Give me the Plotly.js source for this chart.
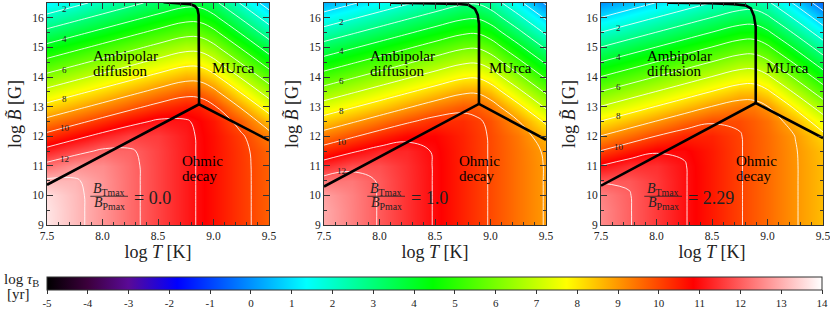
<!DOCTYPE html>
<html>
<head>
<meta charset="utf-8">
<script src="https://cdn.plot.ly/plotly-3.0.1.min.js"></script>
<style>html,body{margin:0;padding:0;background:#fff;}#chart{width:830px;height:317px;}</style>
</head>
<body>
<div id="chart"></div>
<script>
// log T grid (K) and log B grid (G)
const logT = [7.5, 7.75, 8.0, 8.25, 8.5, 8.75, 8.88, 9.0, 9.25, 9.5];
const logB = [9, 9.5, 10, 10.5, 11, 11.5, 12, 12.5, 13, 13.5, 14, 14.5, 15, 15.5, 16, 16.5];

// log tau_B (yr), rows follow logB, columns follow logT
const tauRatio0 = [
 [13.68, 13.18, 12.68, 12.18, 11.68, 11.18, 10.92, 10.68, 10.18, 9.68],
 [13.67, 13.18, 12.68, 12.18, 11.68, 11.18, 10.92, 10.68, 10.18, 9.68],
 [13.58, 13.17, 12.68, 12.18, 11.68, 11.18, 10.92, 10.68, 10.18, 9.68],
 [13.12, 13.08, 12.67, 12.18, 11.68, 11.18, 10.92, 10.68, 10.18, 9.68],
 [12.24, 12.62, 12.58, 12.17, 11.68, 11.18, 10.92, 10.68, 10.18, 9.67],
 [11.26, 11.74, 12.12, 12.08, 11.67, 11.18, 10.92, 10.68, 10.17, 9.62],
 [10.26, 10.76, 11.24, 11.62, 11.58, 11.17, 10.91, 10.67, 10.10, 9.31],
 [9.26, 9.76, 10.26, 10.74, 11.12, 11.07, 10.85, 10.58, 9.72, 8.51],
 [8.26, 8.76, 9.26, 9.76, 10.24, 10.58, 10.48, 10.11, 8.89, 7.54],
 [7.26, 7.76, 8.26, 8.76, 9.26, 9.70, 9.66, 9.23, 7.91, 6.54],
 [6.26, 6.76, 7.26, 7.76, 8.26, 8.71, 8.68, 8.25, 6.91, 5.54],
 [5.26, 5.76, 6.26, 6.76, 7.26, 7.71, 7.68, 7.25, 5.91, 4.54],
 [4.26, 4.76, 5.26, 5.76, 6.26, 6.71, 6.68, 6.25, 4.91, 3.54],
 [3.26, 3.76, 4.26, 4.76, 5.26, 5.71, 5.68, 5.25, 3.91, 2.54],
 [2.26, 2.76, 3.26, 3.76, 4.26, 4.71, 4.68, 4.25, 2.91, 1.54],
 [1.26, 1.76, 2.26, 2.76, 3.26, 3.71, 3.68, 3.25, 1.91, 0.54]
];
const tauRatio1 = [
 [12.95, 12.45, 11.95, 11.45, 10.95, 10.45, 10.19, 9.95, 9.45, 8.95],
 [12.94, 12.45, 11.95, 11.45, 10.95, 10.45, 10.19, 9.95, 9.45, 8.95],
 [12.82, 12.44, 11.95, 11.45, 10.95, 10.45, 10.19, 9.95, 9.45, 8.95],
 [12.29, 12.32, 11.94, 11.45, 10.95, 10.45, 10.19, 9.95, 9.45, 8.95],
 [11.39, 11.79, 11.82, 11.43, 10.95, 10.45, 10.19, 9.95, 9.45, 8.95],
 [10.40, 10.89, 11.29, 11.32, 10.93, 10.45, 10.19, 9.95, 9.44, 8.90],
 [9.40, 9.90, 10.39, 10.79, 10.82, 10.43, 10.18, 9.94, 9.39, 8.61],
 [8.40, 8.90, 9.40, 9.89, 10.29, 10.31, 10.11, 9.85, 9.03, 7.84],
 [7.40, 7.90, 8.40, 8.90, 9.39, 9.77, 9.73, 9.40, 8.21, 6.86],
 [6.40, 6.90, 7.40, 7.90, 8.40, 8.86, 8.90, 8.53, 7.24, 5.87],
 [5.40, 5.90, 6.40, 6.90, 7.40, 7.87, 7.92, 7.55, 6.24, 4.87],
 [4.40, 4.90, 5.40, 5.90, 6.40, 6.87, 6.92, 6.55, 5.24, 3.87],
 [3.40, 3.90, 4.40, 4.90, 5.40, 5.87, 5.92, 5.55, 4.24, 2.87],
 [2.40, 2.90, 3.40, 3.90, 4.40, 4.87, 4.92, 4.55, 3.24, 1.87],
 [1.40, 1.90, 2.40, 2.90, 3.40, 3.87, 3.92, 3.55, 2.24, 0.87],
 [0.40, 0.90, 1.40, 1.90, 2.40, 2.87, 2.92, 2.55, 1.24, -0.13]
];
const tauRatio229 = [
 [12.55, 12.05, 11.55, 11.05, 10.55, 10.05, 9.79, 9.55, 9.05, 8.55],
 [12.54, 12.05, 11.55, 11.05, 10.55, 10.05, 9.79, 9.55, 9.05, 8.55],
 [12.43, 12.04, 11.55, 11.05, 10.55, 10.05, 9.79, 9.55, 9.05, 8.55],
 [11.92, 11.93, 11.54, 11.05, 10.55, 10.05, 9.79, 9.55, 9.05, 8.55],
 [11.02, 11.42, 11.43, 11.04, 10.55, 10.05, 9.79, 9.55, 9.05, 8.55],
 [10.03, 10.52, 10.92, 10.93, 10.54, 10.05, 9.79, 9.55, 9.04, 8.50],
 [9.03, 9.53, 10.02, 10.42, 10.43, 10.04, 9.78, 9.54, 8.99, 8.22],
 [8.03, 8.53, 9.03, 9.52, 9.92, 9.92, 9.72, 9.46, 8.64, 7.45],
 [7.03, 7.53, 8.03, 8.53, 9.02, 9.39, 9.35, 9.02, 7.83, 6.49],
 [6.03, 6.53, 7.03, 7.53, 8.03, 8.49, 8.52, 8.15, 6.86, 5.49],
 [5.03, 5.53, 6.03, 6.53, 7.03, 7.50, 7.54, 7.17, 5.86, 4.49],
 [4.03, 4.53, 5.03, 5.53, 6.03, 6.50, 6.54, 6.17, 4.86, 3.49],
 [3.03, 3.53, 4.03, 4.53, 5.03, 5.50, 5.54, 5.17, 3.86, 2.49],
 [2.03, 2.53, 3.03, 3.53, 4.03, 4.50, 4.54, 4.17, 2.86, 1.49],
 [1.03, 1.53, 2.03, 2.53, 3.03, 3.50, 3.54, 3.17, 1.86, 0.49],
 [0.03, 0.53, 1.03, 1.53, 2.03, 2.50, 2.54, 2.17, 0.86, -0.51]
];

// Regime boundaries (log T, log B)
const boundT1 = [7.5, 8.87, 9.5, null, 8.87, 8.87, 8.866, 8.855, 8.83, 8.79, 8.72, 8.64, 8.55];
const boundB1 = [10.36, 13.08, 11.86, null, 13.08, 15.9, 16.1, 16.3, 16.4, 16.46, 16.49, 16.5, 16.53];
const boundT2 = [7.5, 8.896, 9.5, null, 8.896, 8.896, 8.885, 8.86, 8.8, 8.7, 8.5, 8.3, 8.1];
const boundB2 = [10.30, 13.09, 11.88, null, 13.09, 15.8, 16.1, 16.3, 16.44, 16.465, 16.485, 16.5, 16.51];
const boundT3 = [7.5, 8.894, 9.5, null, 8.894, 8.894, 8.878, 8.85, 8.8, 8.7, 8.48, 8.3, 8.1];
const boundB3 = [10.33, 13.12, 11.94, null, 13.12, 15.7, 16.06, 16.32, 16.42, 16.46, 16.49, 16.5, 16.51];

const ratioLabels = ['0.0', '1.0', '2.29'];
const contourLabelValues = [2, 4, 6, 8, 10, 12];
const contourLabelB = [
  [16.29, 15.27, 14.25, 13.26, 12.28, 11.24],
  [15.86, 14.87, 13.86, 12.84, 11.82, 10.84],
  [15.67, 14.68, 13.67, 12.67, 11.65, null]
];
const cbTicks = [-5,-4,-3,-2,-1,0,1,2,3,4,5,6,7,8,9,10,11,12,13,14];

const SERIF = 'Liberation Serif';
const TXT = '#222';

const fields = [tauRatio0, tauRatio1, tauRatio229];
const bounds = [[boundT1, boundB1], [boundT2, boundB2], [boundT3, boundB3]];
const domains = [[47/830, 269/830], [324/830, 546/830], [601/830, 823/830]];
const yDom = [92/317, 314/317];

const data = [];
const layout = {
  width: 830, height: 317,
  margin: {l: 0, r: 0, t: 0, b: 0},
  paper_bgcolor: '#fff', plot_bgcolor: '#fff',
  showlegend: false,
  font: {family: SERIF, color: TXT},
  coloraxis: {
    cmin: -5, cmax: 14,
    colorscale: [
      [0, '#000000'], [0.0526, '#3c003c'], [0.105, '#5a0a96'], [0.168, '#0000ff'],
      [0.335, '#00ffff'], [0.498, '#00ff00'], [0.6705, '#ffff00'], [0.834, '#ff0000'], [1, '#ffffff']
    ],
    colorbar: {
      orientation: 'h', x: 47/830, xanchor: 'left', len: 775/830, lenmode: 'fraction',
      y: 1 - 277/317, yanchor: 'top', thickness: 13, thicknessmode: 'pixels',
      xpad: 0, ypad: 0, outlinewidth: 1, outlinecolor: '#333',
      ticks: 'outside', ticklen: 4, tickcolor: '#333',
      tickmode: 'array', tickvals: cbTicks, ticktext: cbTicks.map(String),
      tickfont: {family: SERIF, size: 11, color: TXT}, ticklabeloverflow: 'allow'
    }
  },
  annotations: [],
  shapes: []
};

for (let p = 0; p < 3; p++) {
  const sfx = p === 0 ? '' : String(p + 1);
  const xa = 'x' + sfx, ya = 'y' + sfx;
  data.push({
    type: 'heatmap', x: logT, y: logB, z: fields[p], coloraxis: 'coloraxis',
    zsmooth: 'best', xaxis: xa, yaxis: ya, hoverinfo: 'skip'
  });
  data.push({
    type: 'contour', x: logT, y: logB, z: fields[p], xaxis: xa, yaxis: ya,
    autocontour: false, contours: {start: -1, end: 14, size: 1, coloring: 'none', showlabels: false},
    line: {color: 'rgba(255,255,255,0.95)', width: 0.9, smoothing: 1.2},
    showscale: false, hoverinfo: 'skip'
  });
  data.push({
    type: 'scatter', mode: 'lines', x: bounds[p][0], y: bounds[p][1], xaxis: xa, yaxis: ya,
    line: {color: '#000', width: 2.6}, hoverinfo: 'skip', connectgaps: false
  });
  const common = {
    showline: true, linecolor: '#333', linewidth: 1, mirror: 'allticks',
    ticks: 'inside', ticklen: 6, tickcolor: '#333', showgrid: false, zeroline: false,
    tickfont: {family: SERIF, size: 11.5, color: TXT}, ticklabeloverflow: 'allow'
  };
  layout['xaxis' + sfx] = Object.assign({}, common, {
    domain: domains[p], range: [7.5, 9.5], anchor: ya, tick0: 7.5, dtick: 0.5, tickformat: '.1f',
    minor: {dtick: 0.1, ticks: 'inside', ticklen: 3, tickcolor: '#333'},
    title: {text: 'log <i>T</i> [K]', font: {family: SERIF, size: 18, color: TXT}, standoff: 1}
  });
  layout['yaxis' + sfx] = Object.assign({}, common, {
    domain: yDom, range: [9, 16.5], anchor: xa, tick0: 9, dtick: 1,
    minor: {dtick: 0.5, ticks: 'inside', ticklen: 3, tickcolor: '#333'},
    title: {text: 'log <i>B\u0303</i> [G]', font: {family: SERIF, size: 18, color: TXT}, standoff: 5}
  });
  const A = (text, x, y, size, extra) => layout.annotations.push(Object.assign({
    text, x, y, xref: xa, yref: ya, showarrow: false, font: {family: SERIF, size, color: '#000'},
    xanchor: 'left', yanchor: 'middle'
  }, extra || {}));
  A('Ambipolar', 7.90, 14.70, 15);
  A('diffusion', 7.90, 14.19, 15);
  A('MUrca', 9.18, 14.31, 15, {xanchor: 'center'});
  A('Ohmic', 8.70, 11.17, 15);
  A('decay', 8.70, 10.65, 15);
  // ratio label
  A('<i>B</i><sub>Tmax</sub>', 8.06, 10.19, 14, {xanchor: 'center', font: {family: SERIF, size: 14, color: TXT}});
  A('<i>B</i><sub>Pmax</sub>', 8.06, 9.71, 14, {xanchor: 'center', font: {family: SERIF, size: 14, color: TXT}});
  A('= ' + ratioLabels[p], 8.27, 9.92, 18, {font: {family: SERIF, size: 18, color: TXT}});
  layout.shapes.push({type: 'line', xref: xa, yref: ya, x0: 7.89, x1: 8.23, y0: 9.97, y1: 9.97,
    line: {color: TXT, width: 0.8}});
  for (let k = 0; k < contourLabelValues.length; k++) {
    const yb = contourLabelB[p][k];
    if (yb === null) continue;
    A(String(contourLabelValues[k]), 7.66, yb, 9, {xanchor: 'center', font: {family: SERIF, size: 9, color: TXT}});
  }
}
layout.annotations.push({text: 'log <i>τ</i><sub>B</sub>', x: 2/830, y: 1 - 280/317, xref: 'paper', yref: 'paper',
  xanchor: 'left', yanchor: 'middle', showarrow: false, font: {family: SERIF, size: 15, color: TXT}});
layout.annotations.push({text: '[yr]', x: 5/830, y: 1 - 294/317, xref: 'paper', yref: 'paper',
  xanchor: 'left', yanchor: 'middle', showarrow: false, font: {family: SERIF, size: 15, color: TXT}});

Plotly.newPlot('chart', data, layout, {displayModeBar: false, staticPlot: true});
</script>
</body>
</html>
